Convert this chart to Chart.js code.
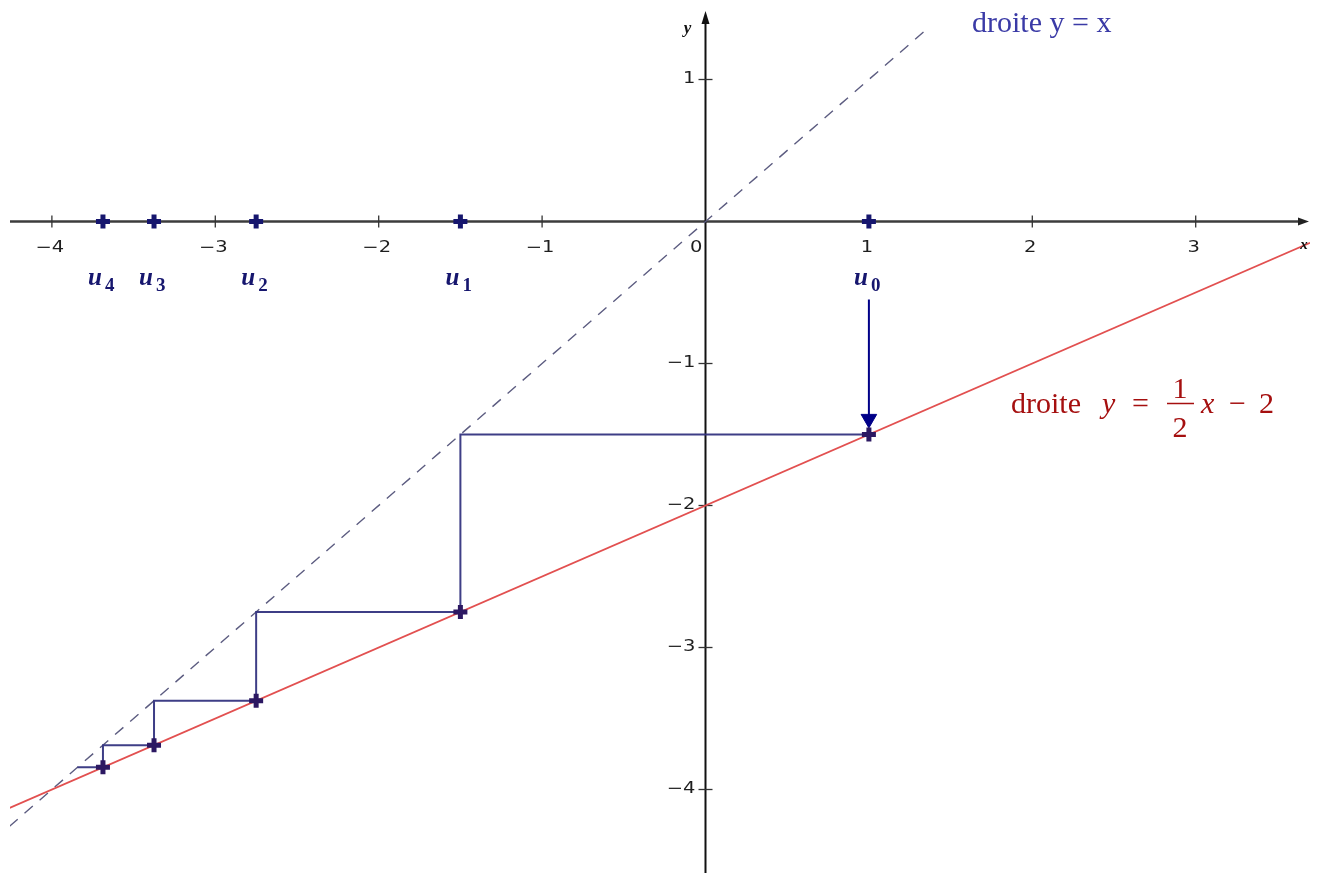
<!DOCTYPE html>
<html>
<head>
<meta charset="utf-8">
<script src="https://cdn.jsdelivr.net/npm/chart.js@4/dist/chart.umd.min.js"></script>
<style>
  html, body { margin: 0; padding: 0; background: #fff; }
  canvas { display: block; }
</style>
</head>
<body>
<canvas id="cobweb" width="1317" height="873"></canvas>
<script>
// sequence u(n+1) = u(n)/2 - 2, u0 = 1
const U_VALUES = [1, -1.5, -2.75, -3.375, -3.6875];
const U_NEXT = [-1.5, -2.75, -3.375, -3.6875, -3.84375];
const U_NAMES = ["0", "1", "2", "3", "4"];

// staircase between the two lines
const COBWEB_X = [1, -1.5, -1.5, -2.75, -2.75, -3.375, -3.375, -3.6875, -3.6875, -3.84375];
const COBWEB_Y = [-1.5, -1.5, -2.75, -2.75, -3.375, -3.375, -3.6875, -3.6875, -3.84375, -3.84375];

// the two lines (ends)
const RED_X = [-4.26, 3.70];
const RED_Y = [-4.13, -0.15];
const DIAG_X = [-4.26, 1.35];
const DIAG_Y = [-4.26, 1.35];

// arrow from u0 down to the red line
const ARROW_X = [1, 1];
const ARROW_Y = [-0.55, -1.39];

// axes
const X_TICKS = [-4, -3, -2, -1, 1, 2, 3];
const X_TICK_LABELS = ["−4", "−3", "−2", "−1", "1", "2", "3"];
const Y_TICKS = [1, -1, -2, -3, -4];
const Y_TICK_LABELS = ["1", "−1", "−2", "−3", "−4"];

const pts = (xs, ys) => xs.map((x, i) => ({ x, y: ys[i] }));

const NAVY = "#16166e";

const axesPlugin = {
  id: "axes",
  beforeDatasetsDraw(chart) {
    const { ctx, chartArea: a, scales: { x, y } } = chart;
    const x0 = x.getPixelForValue(0), y0 = y.getPixelForValue(0);
    ctx.save();
    // x axis
    ctx.strokeStyle = "#3c3c3c";
    ctx.lineWidth = 2.5;
    ctx.beginPath(); ctx.moveTo(a.left, y0); ctx.lineTo(a.right - 8, y0); ctx.stroke();
    ctx.fillStyle = "#222";
    ctx.beginPath(); ctx.moveTo(a.right - 1, y0); ctx.lineTo(a.right - 12, y0 - 4); ctx.lineTo(a.right - 12, y0 + 4); ctx.closePath(); ctx.fill();
    // y axis
    ctx.strokeStyle = "#111";
    ctx.lineWidth = 2;
    ctx.beginPath(); ctx.moveTo(x0, a.bottom); ctx.lineTo(x0, 20); ctx.stroke();
    ctx.fillStyle = "#111";
    ctx.beginPath(); ctx.moveTo(x0, 11); ctx.lineTo(x0 - 4, 24); ctx.lineTo(x0 + 4, 24); ctx.closePath(); ctx.fill();

    // ticks + labels
    ctx.strokeStyle = "#333";
    ctx.lineWidth = 1.3;
    ctx.fillStyle = "#1e1e1e";
    ctx.font = "15px 'DejaVu Sans'";
    X_TICKS.forEach((v, i) => {
      const px = x.getPixelForValue(v);
      ctx.beginPath(); ctx.moveTo(px, y0 - 6); ctx.lineTo(px, y0 + 6); ctx.stroke();
      ctx.save();
      ctx.translate(px - 2, y0 + 30);
      ctx.scale(1.3, 1);
      ctx.textAlign = "center";
      ctx.textBaseline = "alphabetic";
      ctx.fillText(X_TICK_LABELS[i], 0, 0);
      ctx.restore();
    });
    Y_TICKS.forEach((v, i) => {
      const py = y.getPixelForValue(v);
      ctx.beginPath(); ctx.moveTo(x0 - 7, py); ctx.lineTo(x0 + 7, py); ctx.stroke();
      ctx.save();
      ctx.translate(x0 - 10, py);
      ctx.scale(1.3, 1);
      ctx.textAlign = "right";
      ctx.textBaseline = "middle";
      ctx.fillText(Y_TICK_LABELS[i], 0, 0);
      ctx.restore();
    });
    ctx.save();
    ctx.translate(x0 - 3, y0 + 30);
    ctx.scale(1.3, 1);
    ctx.textAlign = "right";
    ctx.fillText("0", 0, 0);
    ctx.restore();
    ctx.restore();
  },
  afterDatasetsDraw(chart) {
    const { ctx, scales: { x, y } } = chart;
    const x0 = x.getPixelForValue(0), y0 = y.getPixelForValue(0);
    ctx.save();
    // axis names
    ctx.fillStyle = "#111";
    ctx.font = "bold italic 17px 'Liberation Serif'";
    ctx.textAlign = "center";
    ctx.fillText("y", x0 - 18, 33);
    ctx.font = "bold italic 15px 'Liberation Serif'";
    ctx.fillText("x", 1304, 249);

    // u_n labels
    ctx.fillStyle = NAVY;
    U_VALUES.forEach((v, i) => {
      const px = x.getPixelForValue(v);
      ctx.font = "bold italic 25px 'Liberation Serif'";
      ctx.textAlign = "right";
      ctx.fillText("u", px - 1, y0 + 63);
      ctx.font = "bold 19px 'Liberation Serif'";
      ctx.textAlign = "left";
      ctx.fillText(U_NAMES[i], px + 2, y0 + 69);
    });

    // droite y = x
    ctx.fillStyle = "#3a3aa6";
    ctx.font = "30px 'Liberation Serif'";
    ctx.textAlign = "left";
    ctx.fillText("droite y = x", 972, 32);

    // droite y = 1/2 x - 2
    ctx.fillStyle = "#a50f0f";
    ctx.strokeStyle = "#a50f0f";
    ctx.font = "30px 'Liberation Serif'";
    ctx.fillText("droite", 1011, 413);
    ctx.fillText("=", 1132, 413);
    ctx.fillText("−", 1229, 413);
    ctx.fillText("2", 1259, 413);
    ctx.font = "italic 30px 'Liberation Serif'";
    ctx.fillText("y", 1102, 413);
    ctx.fillText("x", 1201, 413);
    ctx.font = "30px 'Liberation Serif'";
    ctx.textAlign = "center";
    ctx.fillText("1", 1180, 398);
    ctx.fillText("2", 1180, 437);
    ctx.lineWidth = 1.5;
    ctx.beginPath(); ctx.moveTo(1167, 403.5); ctx.lineTo(1194, 403.5); ctx.stroke();
    ctx.restore();
  }
};

new Chart(document.getElementById("cobweb"), {
  type: "scatter",
  data: {
    datasets: [
      {
        label: "u_n on x axis",
        data: U_VALUES.map((v) => ({ x: v, y: 0 })),
        pointStyle: "cross",
        pointRadius: 7,
        pointBorderWidth: 5,
        pointBorderColor: NAVY,
        showLine: false,
        order: 0
      },
      {
        label: "points on red line",
        data: pts(U_VALUES, U_NEXT),
        pointStyle: "cross",
        pointRadius: 7,
        pointBorderWidth: 5,
        pointBorderColor: "#2c1862",
        showLine: false,
        order: 1
      },
      {
        label: "arrow",
        data: pts(ARROW_X, ARROW_Y),
        showLine: true,
        borderColor: "#000088",
        borderWidth: 2,
        pointStyle: "triangle",
        rotation: 180,
        pointRadius: (c) => (c.dataIndex === 1 ? 9 : 0),
        pointBackgroundColor: "#000088",
        pointBorderColor: "#000088",
        pointBorderWidth: 1,
        order: 2
      },
      {
        label: "cobweb",
        data: pts(COBWEB_X, COBWEB_Y),
        showLine: true,
        borderColor: "rgba(52,52,128,0.95)",
        borderWidth: 2,
        pointRadius: 0,
        tension: 0,
        order: 3
      },
      {
        label: "y = x/2 - 2",
        data: pts(RED_X, RED_Y),
        showLine: true,
        borderColor: "#e25050",
        borderWidth: 1.8,
        pointRadius: 0,
        order: 4
      },
      {
        label: "y = x",
        data: pts(DIAG_X, DIAG_Y),
        showLine: true,
        borderColor: "#5c5c80",
        borderWidth: 1.4,
        borderDash: [11, 9],
        pointRadius: 0,
        order: 5
      }
    ]
  },
  options: {
    responsive: false,
    animation: false,
    layout: { autoPadding: false, padding: { left: 10, right: 7, top: 0, bottom: 0 } },
    scales: {
      x: { type: "linear", min: -4.2564, max: 3.6995, display: false },
      y: { type: "linear", min: -4.588, max: 1.5599, display: false }
    },
    plugins: { legend: { display: false }, tooltip: { enabled: false } }
  },
  plugins: [axesPlugin]
});
</script>
</body>
</html>
